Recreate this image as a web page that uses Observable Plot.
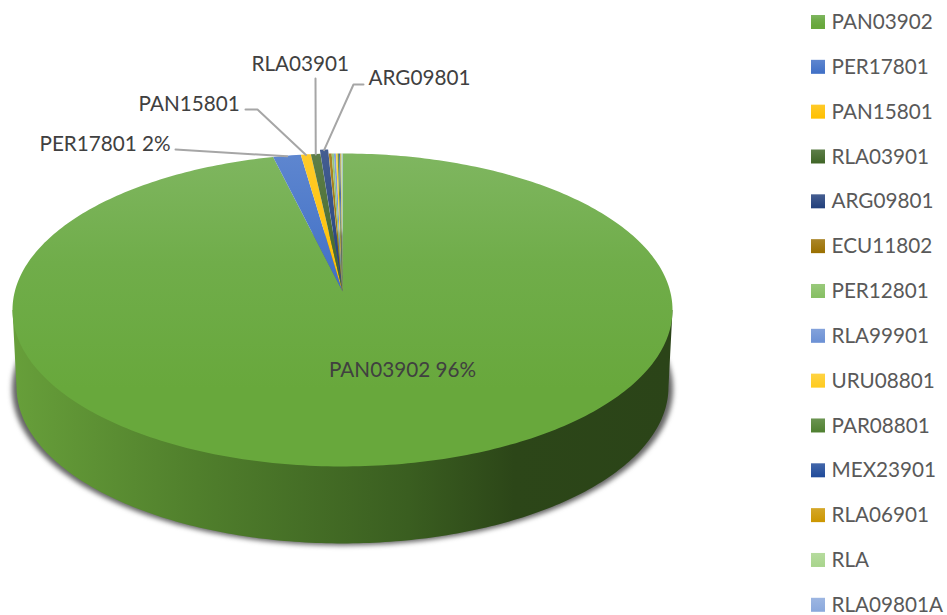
<!DOCTYPE html>
<html>
<head>
<meta charset="utf-8">
<script src="https://cdn.jsdelivr.net/npm/d3@7"></script>
<script src="https://cdn.jsdelivr.net/npm/@observablehq/plot@0.6"></script>
<style>
html,body{margin:0;padding:0;background:#fff;overflow:hidden}
svg{display:block}
</style>
</head>
<body>
<div id="chart"></div>
<script>
// Data (percent share of each category)
const names  = ["PAN03902","PER17801","PAN15801","RLA03901","ARG09801","ECU11802","PER12801","RLA99901","URU08801","PAR08801","MEX23901","RLA06901","RLA","RLA09801A"];
const shares = [96.21,1.52,0.55,0.52,0.45,0.16,0.12,0.11,0.09,0.08,0.07,0.05,0.04,0.03];
const colors = ["#68a83c","#3f6fc6","#ffc000","#3f6526","#213f7c","#9a6f00","#86bf62","#6b90d4","#ffcb1f","#4f8030","#1f4a9a","#cc9600","#a8d48c","#8aa8dc"];
const lighter = c => d3.interpolateRgb(c,"#ffffff")(0.16);

// Perspective projection of the disc onto the page
const W = 947, H = 615;
const P = 0.118, B = 154.3, CX = 342, CY = 291, DEPTH = 77;
function project(X, Y, a = 327.7, dy = 0) {
  const w = 1 + P * Y;
  return {x: CX + a * X / w, y: CY + dy - B * Y / w};
}
const rim = (t, r = 1, ox = 0, oy = 0) => project(ox + r * Math.sin(t), oy + r * Math.cos(t));

const total = d3.sum(shares);
let acc = 0;
const slices = names.map((name, i) => {
  const t0 = acc / total * 2 * Math.PI;
  acc += shares[i];
  const t1 = acc / total * 2 * Math.PI;
  const mid = (t0 + t1) / 2;
  const ex = name === "ARG09801" ? 0.034 : 0;
  const ox = ex * Math.sin(mid), oy = ex * Math.cos(mid);
  const n = Math.max(2, Math.ceil((t1 - t0) * 60));
  const pts = [project(ox, oy)];
  for (let k = 0; k <= n; k++) pts.push(rim(t0 + (t1 - t0) * k / n, 1, ox, oy));
  return {name, i, share: shares[i], mid, pts, anchor: rim(mid, 0.995, ox, oy)};
});

// Side wall and shadow
const arc = (from, to, a, dy) => d3.range(0, 201).map(k => {
  const t = from + (to - from) * k / 200;
  return project(Math.sin(t), Math.cos(t), a, dy);
});
const tExt = Math.PI - Math.acos(P);
const wall = arc(tExt, 2 * Math.PI - tExt, 323.7, DEPTH);
wall.unshift(project(Math.sin(tExt), Math.cos(tExt)));
wall.push(project(Math.sin(2 * Math.PI - tExt), Math.cos(2 * Math.PI - tExt)));
const shadow = arc(0, 2 * Math.PI, 328.2, DEPTH + 2);

// Layout of callouts: text position, anchor, and leader bend points
const labelFont = "Lato, Carlito, Calibri, sans-serif";
const callouts = [
  {name: "PAN03902", pct: true,  x: 402, y: 369.5, anchor: "middle"},
  {name: "PER17801", pct: true,  x: 39,  y: 143.5, anchor: "start", leader: [[175,149]]},
  {name: "PAN15801", pct: false, x: 138, y: 103.5, anchor: "start", leader: [[245,109],[257,109]]},
  {name: "RLA03901", pct: false, x: 251, y: 63.5,  anchor: "start", leader: [[315,78]]},
  {name: "ARG09801", pct: false, x: 368, y: 77.5,  anchor: "start", leader: [[363,84],[353,84]]}
];
callouts.forEach(c => {
  const s = slices.find(d => d.name === c.name);
  c.text = c.pct ? `${c.name} ${Math.round(s.share)}%` : c.name;
  if (c.leader) c.path = [...c.leader.map(([x, y]) => ({x, y})), s.anchor];
});

// Legend rows
const legend = names.map((name, i) => ({name, i, y: 22 + i * 44.83}));

const defs = () => {
  const ns = "http://www.w3.org/2000/svg";
  const d = document.createElementNS(ns, "defs");
  const grad = (id, stops, horizontal) => {
    const g = document.createElementNS(ns, "linearGradient");
    g.setAttribute("id", id);
    g.setAttribute("x1", 0); g.setAttribute("y1", 0);
    g.setAttribute("x2", horizontal ? 1 : 0); g.setAttribute("y2", horizontal ? 0 : 1);
    stops.forEach(([o, c]) => {
      const s = document.createElementNS(ns, "stop");
      s.setAttribute("offset", o); s.setAttribute("stop-color", c);
      g.appendChild(s);
    });
    d.appendChild(g);
  };
  colors.forEach((c, i) => grad(`g${i}`, i === 0
    ? [[0, "#7fb660"], [0.35, "#70ad4a"], [0.75, "#68a83c"], [1, "#68a83c"]]
    : [[0, lighter(c)], [1, c]]));
  grad("wallGrad", [[0, "#679f3a"], [0.28, "#507f2c"], [0.6, "#3a5e20"], [0.76, "#2c4618"], [1, "#2b4418"]], true);
  return d;
};

const plot = Plot.plot({
  width: W, height: H,
  margin: 0,
  x: {type: "linear", domain: [0, W], range: [0, W], axis: null},
  y: {type: "linear", domain: [0, H], range: [0, H], axis: null},
  style: {background: "#fff", fontFamily: labelFont},
  marks: [
    defs,
    Plot.line(shadow, {x: "x", y: "y", fill: "#4a4a4a", stroke: "none", fillOpacity: 0.85, imageFilter: "blur(2.5px)"}),
    Plot.line(wall, {x: "x", y: "y", fill: "url(#wallGrad)", stroke: "none"}),
    ...slices.map(s => Plot.line(s.pts, {x: "x", y: "y", fill: `url(#g${s.i})`, stroke: "none"})),
    ...callouts.filter(c => c.path).map(c => Plot.line(c.path, {x: "x", y: "y", stroke: "#a6a6a6", strokeWidth: 2, fill: "none"})),
    Plot.text(callouts.filter(c => c.anchor === "middle"), {x: "x", y: "y", text: "text", textAnchor: "middle", fontSize: 20.7, fill: "#404040", lineAnchor: "middle"}),
    Plot.text(callouts.filter(c => c.anchor === "start"), {x: "x", y: "y", text: "text", textAnchor: "start", fontSize: 20.7, fill: "#404040", lineAnchor: "middle"}),
    Plot.rect(legend, {x1: () => 811, x2: () => 825, y1: d => d.y - 7, y2: d => d.y + 7, fill: d => `url(#g${d.i})`}),
    Plot.text(legend, {x: () => 831, y: "y", text: "name", textAnchor: "start", fontSize: 20.7, fill: "#595959", lineAnchor: "middle"})
  ],
  color: {type: "identity"}
});
document.getElementById("chart").appendChild(plot);
</script>
</body>
</html>
